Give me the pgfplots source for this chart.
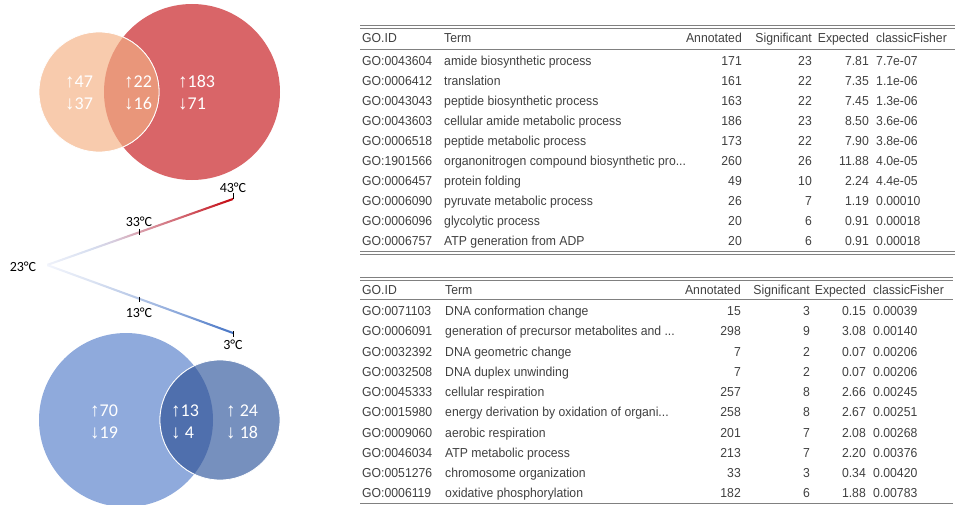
\documentclass[border=0pt]{standalone}
\usepackage{fontspec}
\setmainfont{Carlito}
\newfontfamily\tabfont{Liberation Sans}[FakeStretch=0.94]
\newfontfamily\arrfont{Liberation Sans}
\usepackage{pgfplots}
\usepackage{pgfplotstable}
\pgfplotsset{compat=1.18}

\definecolor{peach}{RGB}{248,203,173}
\definecolor{redc}{RGB}{217,101,104}
\definecolor{redx}{RGB}{233,150,122}
\definecolor{blueL}{RGB}{143,170,220}
\definecolor{blueD}{RGB}{118,144,190}
\definecolor{blueX}{RGB}{79,111,173}
\definecolor{txt}{RGB}{64,64,64}
\definecolor{rulec}{RGB}{128,128,128}

% colour ramps for the temperature wedge (25bp..75bp = left..right end)
\pgfdeclarehorizontalshading{hotline}{100bp}{%
  rgb(0bp)=(0.94,0.95,0.98); rgb(25bp)=(0.94,0.95,0.98);
  rgb(37bp)=(0.84,0.87,0.94); rgb(43bp)=(0.84,0.80,0.87);
  rgb(50bp)=(0.85,0.62,0.67); rgb(62bp)=(0.82,0.38,0.42);
  rgb(75bp)=(0.77,0.02,0.05); rgb(100bp)=(0.77,0.02,0.05)}
\pgfdeclarehorizontalshading{coldline}{100bp}{%
  rgb(0bp)=(0.95,0.96,0.99); rgb(25bp)=(0.95,0.96,0.99);
  rgb(37bp)=(0.86,0.89,0.95); rgb(50bp)=(0.70,0.77,0.90);
  rgb(62bp)=(0.52,0.64,0.85);
  rgb(75bp)=(0.27,0.45,0.77); rgb(100bp)=(0.27,0.45,0.77)}

\newcommand\up{{\arrfont\fontsize{19}{19}\selectfont ↑}}
\newcommand\dn{{\arrfont\fontsize{19}{19}\selectfont ↓}}

% GO enrichment, warm side (y = row centre in px from top)
\pgfplotstableread[col sep=comma]{
y,id,term,ann,sig,exp,fis
60.5,GO:0043604,amide biosynthetic process,171,23,7.81,7.7e-07
80.6,GO:0006412,translation,161,22,7.35,1.1e-06
100.6,GO:0043043,peptide biosynthetic process,163,22,7.45,1.3e-06
120.7,GO:0043603,cellular amide metabolic process,186,23,8.50,3.6e-06
140.7,GO:0006518,peptide metabolic process,173,22,7.90,3.8e-06
160.8,GO:1901566,organonitrogen compound biosynthetic pro...,260,26,11.88,4.0e-05
180.8,GO:0006457,protein folding,49,10,2.24,4.4e-05
200.9,GO:0006090,pyruvate metabolic process,26,7,1.19,0.00010
220.9,GO:0006096,glycolytic process,20,6,0.91,0.00018
241.0,GO:0006757,ATP generation from ADP,20,6,0.91,0.00018
}\tabA

% GO enrichment, cold side
\pgfplotstableread[col sep=comma]{
y,id,term,ann,sig,exp,fis
311.0,GO:0071103,DNA conformation change,15,3,0.15,0.00039
331.2,GO:0006091,generation of precursor metabolites and ...,298,9,3.08,0.00140
351.4,GO:0032392,DNA geometric change,7,2,0.07,0.00206
371.7,GO:0032508,DNA duplex unwinding,7,2,0.07,0.00206
391.9,GO:0045333,cellular respiration,257,8,2.66,0.00245
412.1,GO:0015980,energy derivation by oxidation of organi...,258,8,2.67,0.00251
432.3,GO:0009060,aerobic respiration,201,7,2.08,0.00268
452.6,GO:0046034,ATP metabolic process,213,7,2.20,0.00376
472.8,GO:0051276,chromosome organization,33,3,0.34,0.00420
493.0,GO:0006119,oxidative phosphorylation,182,6,1.88,0.00783
}\tabB

\pgfplotsset{
  tabcell/.style={draw=none, mark=none, nodes near coords, point meta=explicit symbolic,
    every node near coord/.append style={font=\tabfont\fontsize{13}{15}\selectfont,
      text=txt, inner sep=0pt, anchor=#1}},
}
\tikzset{
  hdr/.style={font=\tabfont\fontsize{13}{15}\selectfont, text=txt, inner sep=0pt, anchor=#1},
  inlab/.style={anchor=base west, text=white, inner sep=0pt, font=\fontsize{18}{18}\selectfont},
  temp/.style={font=\fontsize{14}{14}\selectfont, inner sep=0pt},
}

\begin{document}
\begin{tikzpicture}
\begin{axis}[
  width=957pt, height=505pt, scale only axis,
  xmin=0, xmax=957, ymin=0, ymax=505, y dir=reverse,
  hide axis, clip=false,
]
% ---- warm Venn
\fill[redc] (axis cs:192,92) circle[radius=88];
\fill[peach, draw=white, line width=0.8pt] (axis cs:99,92) circle[radius=60];
\begin{scope}
  \clip (axis cs:192,92) circle[radius=88];
  \fill[redx, draw=white, line width=0.8pt] (axis cs:99,92) circle[radius=60];
\end{scope}
\node[inlab] at (axis cs:65,88) {\up47};
\node[inlab] at (axis cs:65,110) {\dn37};
\node[inlab] at (axis cs:124,88) {\up22};
\node[inlab] at (axis cs:124,110) {\dn16};
\node[inlab] at (axis cs:178,88) {\up183};
\node[inlab] at (axis cs:178,110) {\dn71};

% ---- cold Venn
\fill[blueL] (axis cs:126,420) circle[radius=87];
\fill[blueD, draw=white, line width=0.8pt] (axis cs:220,420) circle[radius=60];
\begin{scope}
  \clip (axis cs:126,420) circle[radius=87];
  \fill[blueX, draw=white, line width=0.8pt] (axis cs:220,420) circle[radius=60];
\end{scope}
\node[inlab] at (axis cs:90,416) {\up70};
\node[inlab] at (axis cs:90,438) {\dn19};
\node[inlab] at (axis cs:171,416) {\up13};
\node[inlab] at (axis cs:171,438) {\dn\ 4};
\node[inlab] at (axis cs:226,416) {\up\ 24};
\node[inlab] at (axis cs:226,438) {\dn\ 18};

% ---- temperature wedge
\shade[shading=hotline]
  (axis cs:47,263.9) -- (axis cs:233,197.9) -- (axis cs:233,200.1) -- (axis cs:47,266.1) -- cycle;
\shade[shading=coldline]
  (axis cs:47,263.9) -- (axis cs:233,331.9) -- (axis cs:233,334.1) -- (axis cs:47,266.1) -- cycle;
\draw[black, line width=0.6pt] (axis cs:233,199) -- (axis cs:233,193);
\draw[black, line width=0.6pt] (axis cs:139,229) -- (axis cs:139,234.5);
\draw[black, line width=0.6pt] (axis cs:139,296.5) -- (axis cs:139,302);
\draw[black, line width=0.6pt] (axis cs:233,331) -- (axis cs:233,337);
\node[temp] at (axis cs:233,188) {43°C};
\node[temp] at (axis cs:139,222) {33°C};
\node[temp] at (axis cs:23,267) {23°C};
\node[temp] at (axis cs:139,313) {13°C};
\node[temp] at (axis cs:233,345) {3°C};

% ---- table 1
\draw[rulec, line width=0.8pt] (axis cs:360,25.6) -- (axis cs:955,25.6);
\draw[rulec, line width=0.8pt] (axis cs:360,28.6) -- (axis cs:955,28.6);
\draw[rulec, line width=0.8pt] (axis cs:360,49) -- (axis cs:955,49);
\draw[rulec, line width=0.8pt] (axis cs:360,251.4) -- (axis cs:955,251.4);
\draw[rulec, line width=0.8pt] (axis cs:360,254.4) -- (axis cs:955,254.4);
\node[hdr=base west] at (axis cs:362,42.7) {GO.ID};
\node[hdr=base west] at (axis cs:444,42.7) {Term};
\node[hdr=base east] at (axis cs:742,42.7) {Annotated};
\node[hdr=base east] at (axis cs:812,42.7) {Significant};
\node[hdr=base east] at (axis cs:869,42.7) {Expected};
\node[hdr=base west] at (axis cs:876,42.7) {classicFisher};
\addplot[tabcell=base west] table[x expr=362, y expr=\thisrow{y}+4.7, meta=id] {\tabA};
\addplot[tabcell=base west] table[x expr=444, y expr=\thisrow{y}+4.7, meta=term] {\tabA};
\addplot[tabcell=base east] table[x expr=742, y expr=\thisrow{y}+4.7, meta=ann] {\tabA};
\addplot[tabcell=base east] table[x expr=812, y expr=\thisrow{y}+4.7, meta=sig] {\tabA};
\addplot[tabcell=base east] table[x expr=869, y expr=\thisrow{y}+4.7, meta=exp] {\tabA};
\addplot[tabcell=base west] table[x expr=876, y expr=\thisrow{y}+4.7, meta=fis] {\tabA};

% ---- table 2
\draw[rulec, line width=0.8pt] (axis cs:360,277.8) -- (axis cs:953,277.8);
\draw[rulec, line width=0.8pt] (axis cs:360,280.8) -- (axis cs:953,280.8);
\draw[rulec, line width=0.8pt] (axis cs:360,299) -- (axis cs:953,299);
\draw[rulec, line width=0.8pt] (axis cs:360,503) -- (axis cs:953,503);
\node[hdr=base west] at (axis cs:362,294.7) {GO.ID};
\node[hdr=base west] at (axis cs:445,294.7) {Term};
\node[hdr=base east] at (axis cs:741,294.7) {Annotated};
\node[hdr=base east] at (axis cs:810,294.7) {Significant};
\node[hdr=base east] at (axis cs:866,294.7) {Expected};
\node[hdr=base west] at (axis cs:873,294.7) {classicFisher};
\addplot[tabcell=base west] table[x expr=362, y expr=\thisrow{y}+4.7, meta=id] {\tabB};
\addplot[tabcell=base west] table[x expr=445, y expr=\thisrow{y}+4.7, meta=term] {\tabB};
\addplot[tabcell=base east] table[x expr=741, y expr=\thisrow{y}+4.7, meta=ann] {\tabB};
\addplot[tabcell=base east] table[x expr=810, y expr=\thisrow{y}+4.7, meta=sig] {\tabB};
\addplot[tabcell=base east] table[x expr=866, y expr=\thisrow{y}+4.7, meta=exp] {\tabB};
\addplot[tabcell=base west] table[x expr=873, y expr=\thisrow{y}+4.7, meta=fis] {\tabB};
\end{axis}
\pgfresetboundingbox
\path (0,0) rectangle (957pt,505pt);
\end{tikzpicture}
\end{document}
